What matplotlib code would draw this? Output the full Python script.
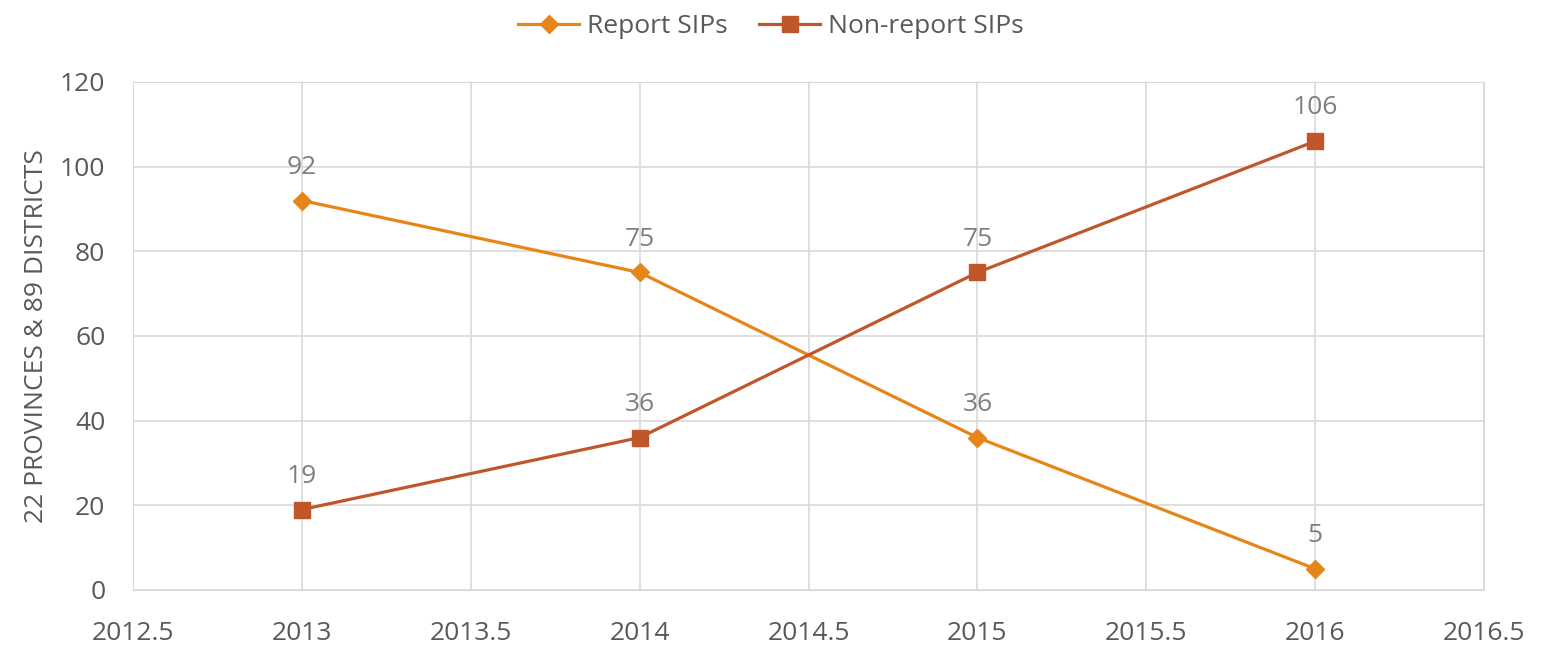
import matplotlib.pyplot as plt

# Chart data
years = [2013, 2014, 2015, 2016]
report_sips = [92, 75, 36, 5]
non_report_sips = [19, 36, 75, 106]

plt.rcParams['font.family'] = ['Open Sans', 'DejaVu Sans']

fig = plt.figure(figsize=(15.42, 6.45), dpi=100)
ax = fig.add_axes([0.0863, 0.0853, 0.8761, 0.7876])

orange = '#E6851A'
rust = '#C0572A'
text_gray = '#595959'
label_gray = '#7F7F7F'

ax.plot(years, report_sips, color=orange, lw=2.3, marker='D', ms=9,
        label='Report SIPs', zorder=3)
ax.plot(years, non_report_sips, color=rust, lw=2.3, marker='s', ms=12,
        label='Non-report SIPs', zorder=3)

# Data labels above each point
for x, y in zip(years, report_sips):
    ax.annotate(str(y), (x, y), xytext=(0, 15), textcoords='offset points',
                ha='center', va='bottom', fontsize=19, color=label_gray)
for x, y in zip(years, non_report_sips):
    ax.annotate(str(y), (x, y), xytext=(0, 15), textcoords='offset points',
                ha='center', va='bottom', fontsize=19, color=label_gray)

ax.set_xlim(2012.5, 2016.5)
ax.set_ylim(0, 120)
ax.set_xticks([2012.5, 2013, 2013.5, 2014, 2014.5, 2015, 2015.5, 2016, 2016.5])
ax.set_xticklabels(['2012.5', '2013', '2013.5', '2014', '2014.5', '2015',
                    '2015.5', '2016', '2016.5'])
ax.set_yticks(range(0, 121, 20))

ax.grid(True, color='#D9D9D9', lw=1.2)
ax.set_axisbelow(True)
for s in ax.spines.values():
    s.set_color('#D9D9D9')
ax.tick_params(length=0, labelsize=19, colors=text_gray)
ax.tick_params(axis='x', pad=22)
ax.tick_params(axis='y', pad=20)

ax.set_ylabel('22 PROVINCES & 89 DISTRICTS', fontsize=19, color=text_gray,
              labelpad=8)

fig.legend(loc='upper center', bbox_to_anchor=(0.5, 1.015), ncol=2,
           frameon=False, fontsize=19, labelcolor=text_gray,
           handlelength=2.3, columnspacing=1.2, handletextpad=0.3)

plt.savefig('out.png', dpi=100)
plt.close()
